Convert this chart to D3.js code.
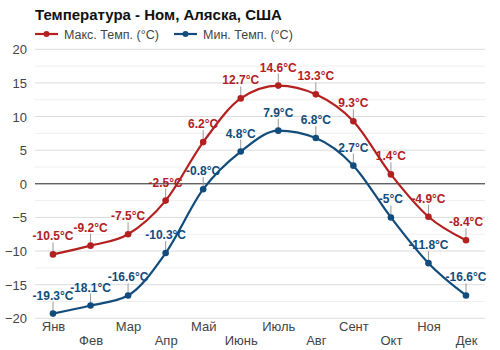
<!DOCTYPE html>
<html><head><meta charset="utf-8">
<script src="https://cdn.jsdelivr.net/npm/d3@7"></script>
<style>body{margin:0;background:#fff}svg{display:block}text{font-family:"Liberation Sans",Arial,sans-serif}</style>
</head><body><svg id="c" width="500" height="350"></svg>
<script>
const months = ["Янв","Фев","Мар","Апр","Май","Июнь","Июль","Авг","Сент","Окт","Ноя","Дек"];
const maxTemp = [-10.5,-9.2,-7.5,-2.5,6.2,12.7,14.6,13.3,9.3,1.4,-4.9,-8.4];
const minTemp = [-19.3,-18.1,-16.6,-10.3,-0.8,4.8,7.9,6.8,2.7,-5,-11.8,-16.6];
const yTicks = [-20,-15,-10,-5,0,5,10,15,20];
const seriesNames = ["Макс. Темп. (°C)","Мин. Темп. (°C)"];
const title = "Температура - Ном, Аляска, США";

const FONT = "'Liberation Sans',Arial,sans-serif";
const svg = d3.select("#c");
const colors = ["#b3201f","#124c7c"];
const x = d3.scalePoint().domain(months).range([53,466]);
const y = d3.scaleLinear().domain([-20,20]).range([318.3,49.3]);

// grid
const minor = d3.range(-20,20.01,2.5);
svg.append("g").selectAll("line").data(minor).join("line")
  .attr("x1",35).attr("x2",485).attr("y1",d=>y(d)).attr("y2",d=>y(d))
  .attr("stroke",d=>d===0?"#222":(d%5===0?"#dcdcdc":"#efefef")).attr("stroke-width",1);

// y axis labels
const yAxis = d3.axisLeft(y).tickValues(yTicks).tickSize(0).tickPadding(0);
const ga = svg.append("g").attr("transform","translate(27,0)").call(yAxis);
ga.select(".domain").remove();
ga.selectAll("text").attr("font-size",13).attr("fill","#444").attr("dy","0.35em")
  .style("font-family",FONT);

// x labels
const xAxis = d3.axisBottom(x).tickSize(0).tickPadding(0);
const gx = svg.append("g").attr("transform","translate(0,322)").call(xAxis);
gx.select(".domain").remove();
gx.selectAll("text").attr("font-size",13).attr("fill","#444")
  .attr("y",(d,i)=>i%2===0?0:14).attr("dy","0.71em")
  .style("font-family",FONT);

const line = d3.line().x((d,i)=>x(months[i])).y(d=>y(d)).curve(d3.curveMonotoneX);
[maxTemp,minTemp].forEach((data,s)=>{
  const g = svg.append("g");
  g.append("path").datum(data).attr("d",line).attr("fill","none")
    .attr("stroke",colors[s]).attr("stroke-width",2.2);
  g.selectAll("line.lead").data(data).join("line").attr("class","lead")
    .attr("x1",(d,i)=>x(months[i])).attr("x2",(d,i)=>x(months[i]))
    .attr("y1",d=>y(d)).attr("y2",d=>y(d)-12).attr("stroke","#999").attr("stroke-width",1);
  g.selectAll("circle").data(data).join("circle")
    .attr("cx",(d,i)=>x(months[i])).attr("cy",d=>y(d)).attr("r",3.3).attr("fill",colors[s]);
  g.selectAll("text").data(data).join("text")
    .attr("x",(d,i)=>x(months[i])).attr("y",d=>y(d)-14)
    .attr("text-anchor","middle").attr("font-size",12).attr("font-weight","bold")
    .attr("fill",colors[s]).text(d=>d+"°C");
});

// title
svg.append("text").attr("x",35).attr("y",20).attr("font-size",15).attr("font-weight","bold")
  .attr("fill","#111").text(title);

// legend
const lx = [35,174];
seriesNames.forEach((n,s)=>{
  const g = svg.append("g");
  g.append("line").attr("x1",lx[s]).attr("x2",lx[s]+23).attr("y1",34).attr("y2",34)
    .attr("stroke",colors[s]).attr("stroke-width",2.2);
  g.append("circle").attr("cx",lx[s]+11.5).attr("cy",34).attr("r",3).attr("fill",colors[s]);
  g.append("text").attr("x",lx[s]+29).attr("y",38.5).attr("font-size",12.5).attr("fill","#444").text(n);
});
</script></body></html>
